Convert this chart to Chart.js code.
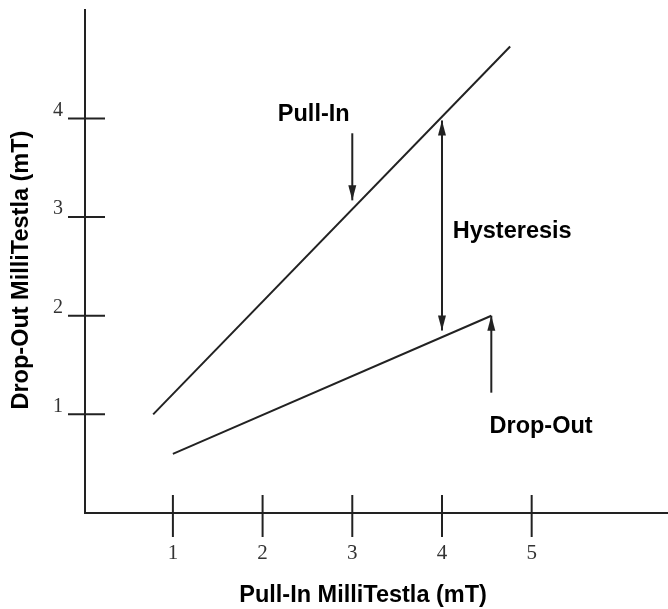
<!DOCTYPE html>
<html>
<head>
<meta charset="utf-8">
<script src="https://cdn.jsdelivr.net/npm/chart.js@4.4.0/dist/chart.umd.min.js"></script>
<style>
body { margin: 0; background: #fff; }
</style>
</head>
<body>
<canvas id="myChart" width="668" height="609"></canvas>
<script>
var xTicks = [1, 2, 3, 4, 5];
var yTicks = [1, 2, 3, 4];

// the two characteristic lines
var pullInX = [0.78, 4.76];
var pullInY = [1.0, 4.73];
var dropOutX = [1.0, 4.55];
var dropOutY = [0.6, 2.0];

// arrows: x, tail y, head y, head at both ends?
var arrowX = [3.0, 4.0, 4.55];
var arrowFromY = [3.85, 1.85, 1.22];
var arrowToY = [3.17, 3.98, 2.0];
var arrowBoth = [false, true, false];

var noteText = ['Pull-In', 'Hysteresis', 'Drop-Out'];
var noteX = [2.17, 4.12, 4.53];
var noteY = [3.97, 2.79, 0.81];

var xTitle = 'Pull-In MilliTestla (mT)';
var yTitle = 'Drop-Out MilliTestla (mT)';

var ink = '#222';
var boldFont = 'bold 23.5px "Liberation Sans", Arial, sans-serif';

function toPoints(xs, ys) {
    var pts = [];
    for (var i = 0; i < xs.length; i++) {
        pts.push({x: xs[i], y: ys[i]});
    }
    return pts;
}

function head(ctx, x, y, dir) {
    // dir = 1 points down, -1 points up
    ctx.beginPath();
    ctx.moveTo(x, y);
    ctx.lineTo(x - 4, y - dir * 15);
    ctx.lineTo(x + 4, y - dir * 15);
    ctx.closePath();
    ctx.fill();
}

var extras = {
    id: 'extras',
    afterDraw: function(chart) {
        var ctx = chart.ctx;
        var xs = chart.scales.x;
        var ys = chart.scales.y;
        var axisX = xs.left;
        var axisY = ys.bottom;
        ctx.save();
        ctx.strokeStyle = ink;
        ctx.fillStyle = ink;
        ctx.lineWidth = 2;

        // tick marks crossing the axes
        xs.ticks.forEach(function(t) {
            var px = xs.getPixelForValue(t.value);
            ctx.beginPath();
            ctx.moveTo(px, axisY - 18);
            ctx.lineTo(px, axisY + 24);
            ctx.stroke();
        });
        ys.ticks.forEach(function(t) {
            var py = ys.getPixelForValue(t.value);
            ctx.beginPath();
            ctx.moveTo(axisX - 17, py);
            ctx.lineTo(axisX + 20, py);
            ctx.stroke();
        });

        // arrows
        for (var i = 0; i < arrowX.length; i++) {
            var ax = xs.getPixelForValue(arrowX[i]);
            var y1 = ys.getPixelForValue(arrowFromY[i]);
            var y2 = ys.getPixelForValue(arrowToY[i]);
            var dir = y2 > y1 ? 1 : -1;
            ctx.beginPath();
            ctx.moveTo(ax, y1);
            ctx.lineTo(ax, y2);
            ctx.stroke();
            head(ctx, ax, y2, dir);
            if (arrowBoth[i]) head(ctx, ax, y1, -dir);
        }

        // notes
        ctx.font = boldFont;
        ctx.textAlign = 'left';
        ctx.textBaseline = 'alphabetic';
        ctx.fillStyle = '#000';
        for (var j = 0; j < noteText.length; j++) {
            ctx.fillText(noteText[j], xs.getPixelForValue(noteX[j]), ys.getPixelForValue(noteY[j]));
        }

        // axis titles
        ctx.textAlign = 'center';
        ctx.fillText(xTitle, xs.left + (xs.right - xs.left) * 0.477, chart.height - 7);
        ctx.translate(28, ys.top + (ys.bottom - ys.top) * 0.517);
        ctx.rotate(-Math.PI / 2);
        ctx.fillText(yTitle, 0, 0);
        ctx.restore();
    }
};

var ctx = document.getElementById('myChart').getContext('2d');
var chart = new Chart(ctx, {
    type: 'scatter',
    data: {
        datasets: [{
            label: 'Pull-In',
            data: toPoints(pullInX, pullInY),
            showLine: true,
            borderColor: ink,
            borderWidth: 2,
            pointRadius: 0
        }, {
            label: 'Drop-Out',
            data: toPoints(dropOutX, dropOutY),
            showLine: true,
            borderColor: ink,
            borderWidth: 2,
            pointRadius: 0
        }]
    },
    options: {
        responsive: false,
        animation: false,
        layout: { padding: { top: 10, right: 0, left: 0, bottom: 0 } },
        plugins: {
            legend: { display: false },
            tooltip: { enabled: false }
        },
        scales: {
            x: {
                type: 'linear',
                min: 0.02,
                max: 6.52,
                afterBuildTicks: function(scale) {
                    scale.ticks = xTicks.map(function(v) { return {value: v}; });
                },
                afterFit: function(scale) {
                    scale.height = 96;
                    scale.paddingLeft = 0;
                    scale.paddingRight = 0;
                },
                grid: { display: false, drawTicks: false },
                border: { display: true, color: ink, width: 2 },
                ticks: {
                    padding: 28,
                    color: '#333',
                    font: { family: '"Liberation Serif", "Times New Roman", serif', size: 21 }
                }
            },
            y: {
                type: 'linear',
                min: 0,
                max: 5.1,
                afterBuildTicks: function(scale) {
                    scale.ticks = yTicks.map(function(v) { return {value: v}; });
                },
                afterFit: function(scale) {
                    scale.width = 85;
                    scale.paddingTop = 0;
                    scale.paddingBottom = 0;
                },
                grid: { display: false, drawTicks: false },
                border: { display: true, color: ink, width: 2 },
                ticks: {
                    padding: 22,
                    labelOffset: -8,
                    color: '#333',
                    font: { family: '"Liberation Serif", "Times New Roman", serif', size: 20 }
                }
            }
        }
    },
    plugins: [extras]
});
</script>
</body>
</html>
